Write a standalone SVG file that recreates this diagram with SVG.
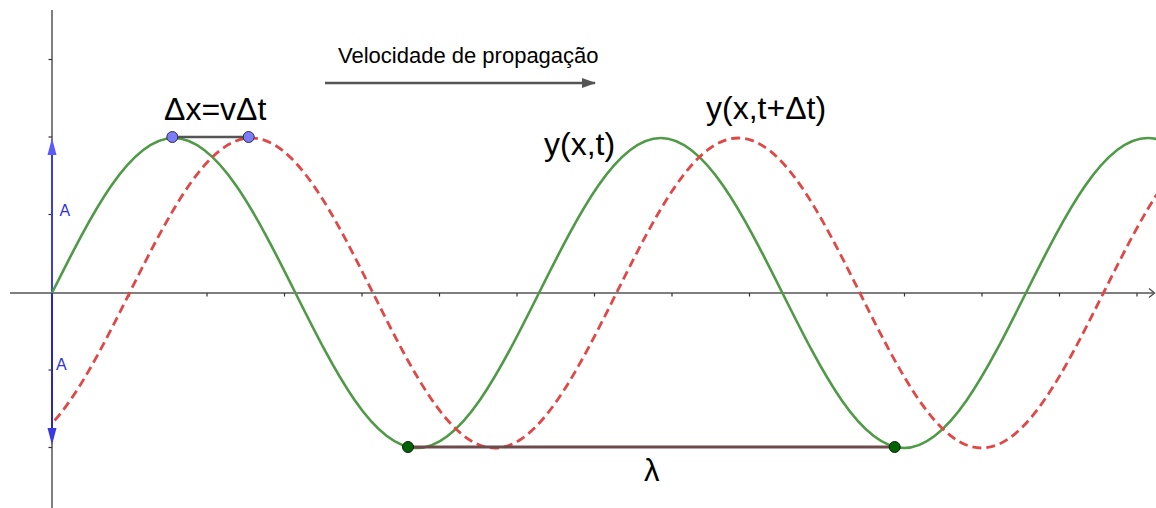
<svg xmlns="http://www.w3.org/2000/svg" width="1156" height="508" viewBox="0 0 1156 508">
<style>
.axis{stroke:#555;stroke-width:1.5;fill:none}
.tick{stroke:#333;stroke-width:1.2}
.wave{fill:none;stroke-width:2.6;stroke-linejoin:round}
.green{stroke:#4e9a45}
.red{stroke:#e04848;stroke-width:2.8;stroke-dasharray:9 5}
.lbl{font-family:"Liberation Sans",Arial,sans-serif;fill:#000}
.alab{font-family:"Liberation Sans",Arial,sans-serif;fill:#2f2fe0;font-size:16px}
</style>
<defs>
<clipPath id="clipR"><rect x="52" y="0" width="1104" height="508"/></clipPath>
<marker id="arrV" markerWidth="14" markerHeight="10" refX="13" refY="5" orient="auto" markerUnits="userSpaceOnUse">
<path d="M0,0 L14,5 L0,10 Z" fill="#555"/>
</marker>
</defs>
<rect width="1156" height="508" fill="#fff"/>
<g id="axes">
<line class="axis" x1="52" y1="10" x2="52" y2="508"/>
<line class="axis" x1="10" y1="293" x2="1154" y2="293"/>
<polyline class="axis" points="1149,288.5 1154.5,293 1149,297.5"/>
<g class="tick">
<line x1="48.5" y1="59.5" x2="52" y2="59.5"/>
<line x1="48.5" y1="137" x2="52" y2="137"/>
<line x1="48.5" y1="214.5" x2="52" y2="214.5"/>
<line x1="48.5" y1="370" x2="52" y2="370"/>
<line x1="48.5" y1="447.5" x2="52" y2="447.5"/>
<line x1="129.5" y1="293" x2="129.5" y2="296.5"/>
<line x1="207" y1="293" x2="207" y2="296.5"/>
<line x1="284.5" y1="293" x2="284.5" y2="296.5"/>
<line x1="362" y1="293" x2="362" y2="296.5"/>
<line x1="439.5" y1="293" x2="439.5" y2="296.5"/>
<line x1="517" y1="293" x2="517" y2="296.5"/>
<line x1="594.5" y1="293" x2="594.5" y2="296.5"/>
<line x1="672" y1="293" x2="672" y2="296.5"/>
<line x1="749.5" y1="293" x2="749.5" y2="296.5"/>
<line x1="827" y1="293" x2="827" y2="296.5"/>
<line x1="904.5" y1="293" x2="904.5" y2="296.5"/>
<line x1="982" y1="293" x2="982" y2="296.5"/>
<line x1="1059.5" y1="293" x2="1059.5" y2="296.5"/>
<line x1="1137" y1="293" x2="1137" y2="296.5"/>
</g>
</g>
<g id="amplitude-vectors">
<line x1="52" y1="293" x2="52" y2="152" stroke="#3b3be8" stroke-width="2"/>
<path d="M52,138 L47.5,155 L56.5,155 Z" fill="#5a5aff"/>
<line x1="52" y1="293" x2="52" y2="430" stroke="#2626c8" stroke-width="2"/>
<path d="M52,445 L47.5,428 L56.5,428 Z" fill="#3a3ae0"/>
<text class="alab" x="59.5" y="216">A</text>
<text class="alab" x="56" y="370">A</text>
</g>
<g id="wave-green">
<path class="wave green" d="M52,293 C91.70,213.60 129.68,138 173.74,138 C217.80,138 255.78,213.60 295.48,293 C335.18,372.40 373.16,448 417.22,448 C461.28,448 499.26,372.40 538.96,293 C578.66,213.60 616.64,138 660.70,138 C704.76,138 742.74,213.60 782.44,293 C822.14,372.40 860.12,448 904.18,448 C948.24,448 986.22,372.40 1025.92,293 C1065.62,213.60 1103.60,138 1147.66,138 C1191.72,138 1229.70,213.60 1269.40,293"/>
</g>
<g id="wave-red" clip-path="url(#clipR)">
<path class="wave red" d="M7.76,448 C51.82,448 89.80,372.40 129.5,293 C169.20,213.60 207.18,138 251.24,138 C295.30,138 333.28,213.60 372.98,293 C412.68,372.40 450.66,448 494.72,448 C538.78,448 576.76,372.40 616.46,293 C656.16,213.60 694.14,138 738.20,138 C782.26,138 820.24,213.60 859.94,293 C899.64,372.40 937.62,448 981.68,448 C1025.74,448 1063.72,372.40 1103.42,293 C1143.12,213.60 1181.10,138 1225.16,138"/>
</g>
<g id="connectors">
<line x1="172.3" y1="137" x2="248.7" y2="137" stroke="#555" stroke-width="2.5"/>
<line x1="408" y1="447" x2="894.7" y2="447" stroke="#6e4a4a" stroke-width="3"/>
<line x1="325" y1="83" x2="595" y2="83" stroke="#555" stroke-width="2.5" marker-end="url(#arrV)"/>
</g>
<g id="dot-delta-start"><circle cx="172.3" cy="137" r="5.5" fill="#7b7bff" stroke="#333" stroke-width="1"/></g>
<g id="dot-delta-end"><circle cx="248.7" cy="137" r="5.5" fill="#7b7bff" stroke="#333" stroke-width="1"/></g>
<g id="dot-lambda-start"><circle cx="408" cy="447" r="5.5" fill="#006400" stroke="#1a1a1a" stroke-width="1"/></g>
<g id="dot-lambda-end"><circle cx="894.7" cy="447" r="5.5" fill="#006400" stroke="#1a1a1a" stroke-width="1"/></g>
<g id="labels">
<text class="lbl" x="338" y="63" font-size="22">Velocidade de propagação</text>
<text class="lbl" x="164" y="120" font-size="32">Δx=vΔt</text>
<text class="lbl" x="544" y="155" font-size="32">y(x,t)</text>
<text class="lbl" x="706" y="119" font-size="32">y(x,t+Δt)</text>
<text class="lbl" x="644" y="481" font-size="31">λ</text>
</g>
</svg>
